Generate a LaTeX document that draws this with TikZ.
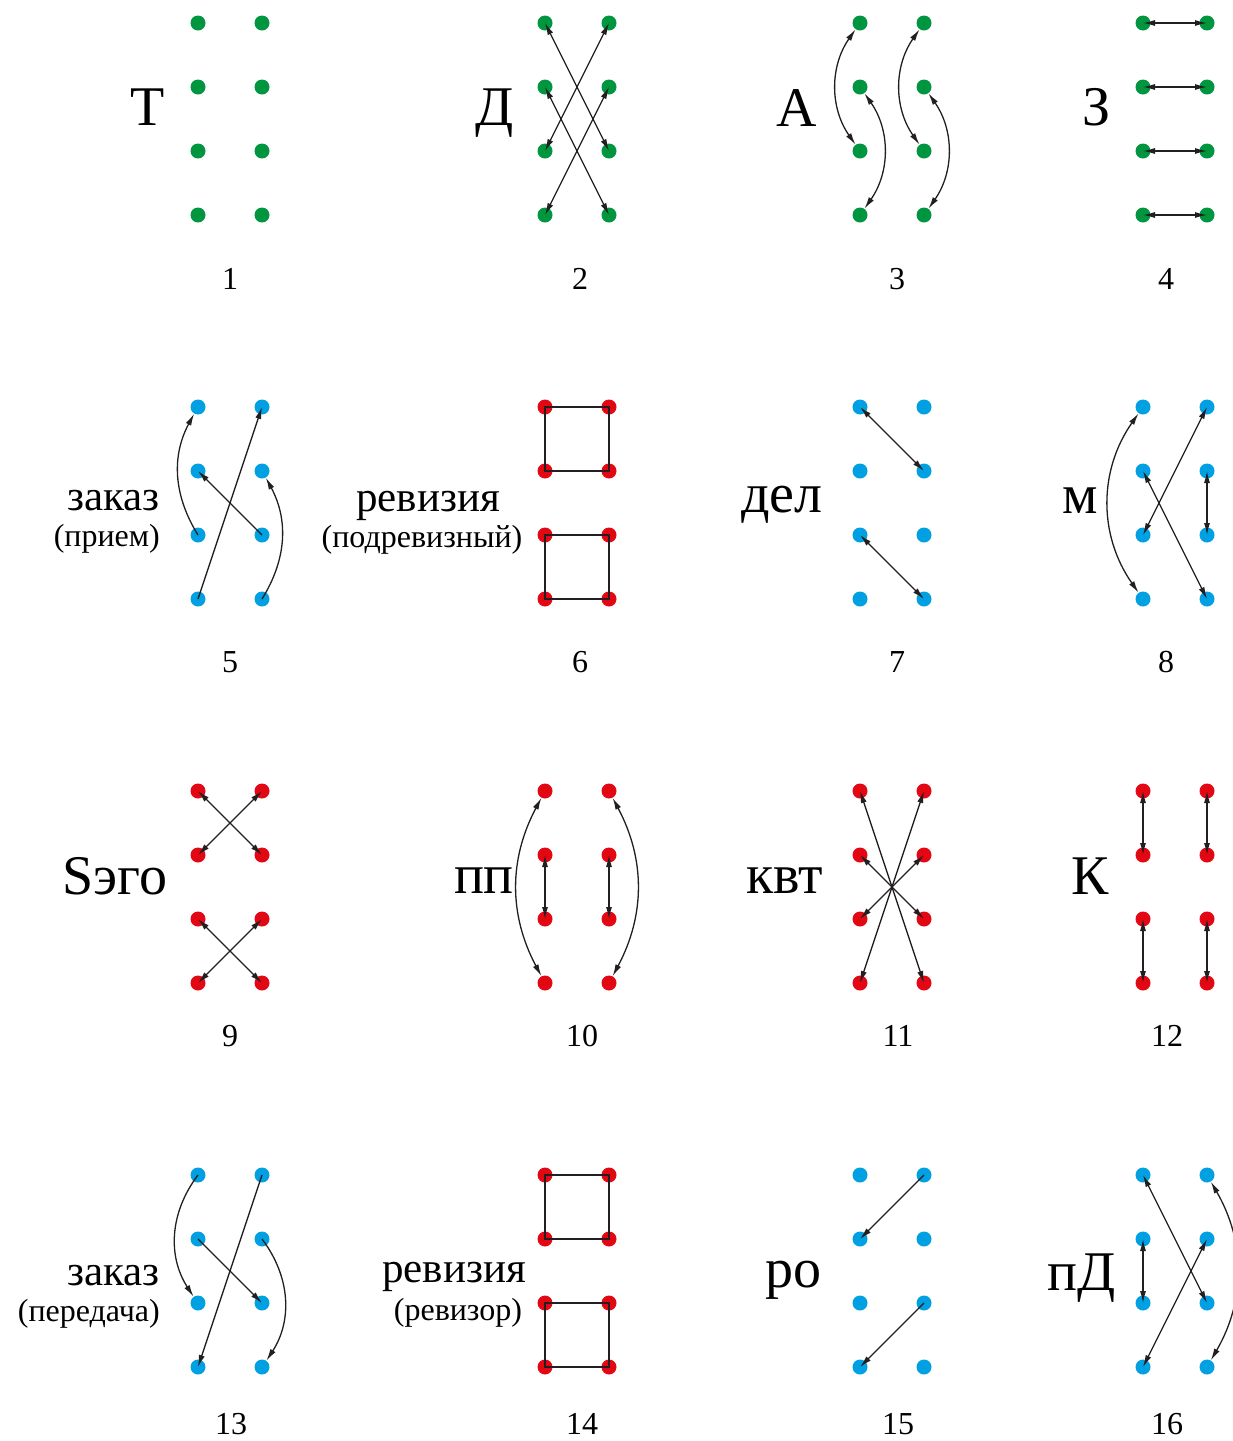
\documentclass[tikz,border=0pt]{standalone}
\usepackage{fontspec}
\setmainfont{Liberation Serif}
\usetikzlibrary{arrows.meta}
\definecolor{dg}{RGB}{0,150,64}
\definecolor{db}{RGB}{0,160,227}
\definecolor{dr}{RGB}{227,6,19}
\definecolor{ink}{RGB}{35,31,32}
\newcommand\mkpanel[4]{%
  \foreach \i in {1,2,3,4}{%
    \node[dot,fill=#4] (#1L\i) at (#2,{#3+64*(\i-1)}) {};
    \node[dot,fill=#4] (#1R\i) at ({#2+64},{#3+64*(\i-1)}) {};
  }}
\begin{document}
\begin{tikzpicture}[x=1pt,y=-1pt,
  dot/.style={circle,inner sep=0pt,minimum size=15pt,draw=none},
  con/.style={draw=ink,line width=1.3pt},
  dbl/.style={con,{Latex[length=12pt,width=6pt]}-{Latex[length=12pt,width=6pt]}},
  one/.style={con,-{Latex[length=12pt,width=6pt]}},
  big/.style={font=\fontsize{56}{60}\selectfont,inner sep=0pt,anchor=base},
  mid/.style={font=\fontsize{43}{46}\selectfont,inner sep=0pt,anchor=base},
  sml/.style={font=\fontsize{32}{36}\selectfont,inner sep=0pt,anchor=base},
  num/.style={font=\fontsize{32}{36}\selectfont,inner sep=0pt,anchor=base}]
\useasboundingbox (0,0) rectangle (1233,1441);

% panels of dots
\mkpanel{a}{198}{23}{dg}
\mkpanel{b}{545}{23}{dg}
\mkpanel{c}{860}{23}{dg}
\mkpanel{d}{1143}{23}{dg}
\mkpanel{e}{198}{407}{db}
\mkpanel{f}{545}{407}{dr}
\mkpanel{g}{860}{407}{db}
\mkpanel{h}{1143}{407}{db}
\mkpanel{i}{198}{791}{dr}
\mkpanel{j}{545}{791}{dr}
\mkpanel{k}{860}{791}{dr}
\mkpanel{l}{1143}{791}{dr}
\mkpanel{m}{198}{1175}{db}
\mkpanel{n}{545}{1175}{dr}
\mkpanel{o}{860}{1175}{db}
\mkpanel{p}{1143}{1175}{db}

% 2
\draw[dbl] (bL1.center) -- (bR3.center);
\draw[dbl] (bR1.center) -- (bL3.center);
\draw[dbl] (bL2.center) -- (bR4.center);
\draw[dbl] (bR2.center) -- (bL4.center);
% 3
\draw[dbl] (cL1) to[bend right=35] (cL3);
\draw[dbl] (cL2) to[bend left=35] (cL4);
\draw[dbl] (cR1) to[bend right=35] (cR3);
\draw[dbl] (cR2) to[bend left=35] (cR4);
% 4
\foreach \i in {1,2,3,4}{\draw[dbl] (dL\i.center) -- (dR\i.center);}
% 5
\draw[one] (eL3.center) to[bend left=30] (eL1);
\draw[one] (eL4.center) -- (eR1.center);
\draw[one] (eR3.center) -- (eL2.center);
\draw[one] (eR4.center) to[bend right=30] (eR2);
% 6
\draw[con] (fL1.center) -- (fR1.center) -- (fR2.center) -- (fL2.center) -- cycle;
\draw[con] (fL3.center) -- (fR3.center) -- (fR4.center) -- (fL4.center) -- cycle;
% 7
\draw[dbl] (gL1.center) -- (gR2.center);
\draw[dbl] (gL3.center) -- (gR4.center);
% 8
\draw[dbl] (hL1) to[bend right=35] (hL4);
\draw[dbl] (hL3.center) -- (hR1.center);
\draw[dbl] (hL2.center) -- (hR4.center);
\draw[dbl] (hR2.center) -- (hR3.center);
% 9
\draw[dbl] (iL1.center) -- (iR2.center);
\draw[dbl] (iR1.center) -- (iL2.center);
\draw[dbl] (iL3.center) -- (iR4.center);
\draw[dbl] (iR3.center) -- (iL4.center);
% 10
\draw[dbl] (jL1) to[bend right=28] (jL4);
\draw[dbl] (jR1) to[bend left=28] (jR4);
\draw[dbl] (jL2.center) -- (jL3.center);
\draw[dbl] (jR2.center) -- (jR3.center);
% 11
\draw[dbl] (kL1.center) -- (kR4.center);
\draw[dbl] (kR1.center) -- (kL4.center);
\draw[dbl] (kL2.center) -- (kR3.center);
\draw[dbl] (kR2.center) -- (kL3.center);
% 12
\draw[dbl] (lL1.center) -- (lL2.center);
\draw[dbl] (lR1.center) -- (lR2.center);
\draw[dbl] (lL3.center) -- (lL4.center);
\draw[dbl] (lR3.center) -- (lR4.center);
% 13
\draw[one] (mL1.center) to[bend right=35] (mL3);
\draw[one] (mR1.center) -- (mL4.center);
\draw[one] (mL2.center) -- (mR3.center);
\draw[one] (mR2.center) to[bend left=35] (mR4);
% 14
\draw[con] (nL1.center) -- (nR1.center) -- (nR2.center) -- (nL2.center) -- cycle;
\draw[con] (nL3.center) -- (nR3.center) -- (nR4.center) -- (nL4.center) -- cycle;
% 15
\draw[one] (oR1.center) -- (oL2.center);
\draw[one] (oR3.center) -- (oL4.center);
% 16
\draw[dbl] (pL1.center) -- (pR3.center);
\draw[dbl] (pL2.center) -- (pL3.center);
\draw[dbl] (pR2.center) -- (pL4.center);
\draw[dbl] (pR1) to[bend left=30] (pR4);

% labels
\node[big] (t1) at (148,125) {Т};
\node[big] (t2) at (495,125) {Д};
\node[big] (t3) at (797,126) {А};
\node[big] (t4) at (1097,125) {З};
\node[mid,anchor=base east] (t5a) at (160,510) {заказ};
\node[sml,anchor=base east] (t5b) at (160,546) {(прием)};
\node[mid] (t6a) at (428,511) {ревизия};
\node[sml] (t6b) at (422,547) {(подревизный)};
\node[big] (t7) at (782,512) {дел};
\node[big] (t8) at (1080,513) {м};
\node[big] (t9) at (115,894) {Sэго};
\node[big] (t10) at (484,893) {пп};
\node[big] (t11) at (785,893) {квт};
\node[big] (t12) at (1090,894) {К};
\node[mid,anchor=base east] (t13a) at (160,1285) {заказ};
\node[sml,anchor=base east] (t13b) at (160,1321) {(передача)};
\node[mid] (t14a) at (454,1282) {ревизия};
\node[sml] (t14b) at (458,1320) {(ревизор)};
\node[big] (t15) at (793,1287) {ро};
\node[big] (t16) at (1082,1290) {пД};

% numbers
\node[num] (n1) at (230,289) {1};
\node[num] (n2) at (580,289) {2};
\node[num] (n3) at (897,289) {3};
\node[num] (n4) at (1166,289) {4};
\node[num] (n5) at (230,672) {5};
\node[num] (n6) at (580,672) {6};
\node[num] (n7) at (897,672) {7};
\node[num] (n8) at (1166,672) {8};
\node[num] (n9) at (230,1046) {9};
\node[num] (n10) at (582,1046) {10};
\node[num] (n11) at (898,1046) {11};
\node[num] (n12) at (1167,1046) {12};
\node[num] (n13) at (231,1434) {13};
\node[num] (n14) at (582,1434) {14};
\node[num] (n15) at (898,1434) {15};
\node[num] (n16) at (1167,1434) {16};
\end{tikzpicture}
\end{document}
